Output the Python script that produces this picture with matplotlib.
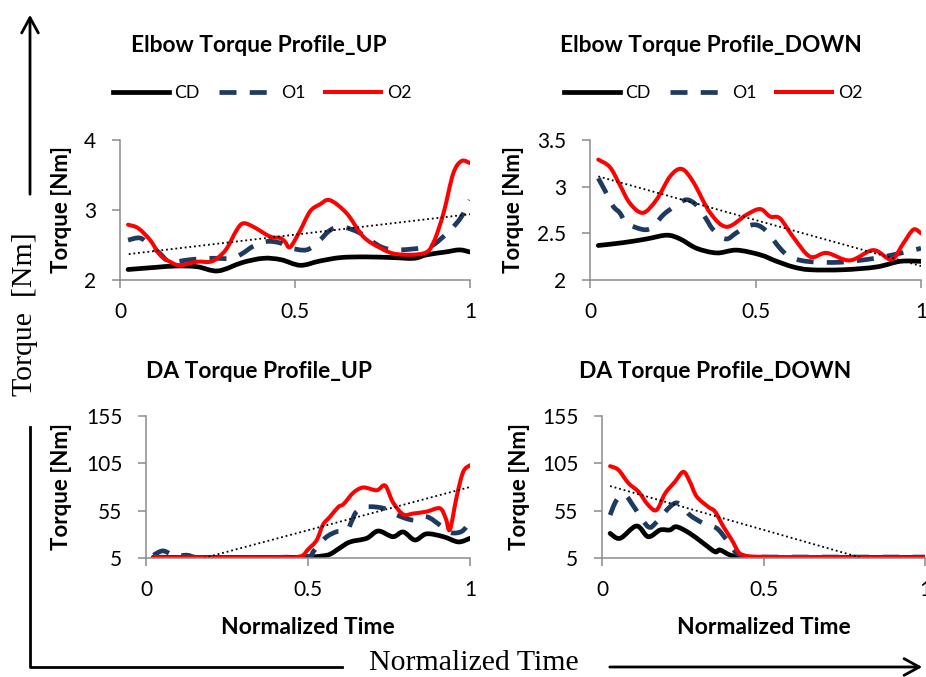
import numpy as np
import matplotlib
matplotlib.use("Agg")
import matplotlib.pyplot as plt
from matplotlib.lines import Line2D
from matplotlib.patches import FancyArrowPatch, PathPatch
from matplotlib.path import Path

plt.rcParams['font.family'] = ['Lato', 'DejaVu Sans']

W, H = 926, 677

# ---- elbow, lifting up ----
eu_cd_t = [0.023, 0.1, 0.16, 0.22, 0.28, 0.35, 0.41, 0.46, 0.515, 0.57, 0.63, 0.7, 0.78, 0.84, 0.876, 0.93, 0.97, 1.0]
eu_cd_v = [2.15, 2.18, 2.20, 2.19, 2.13, 2.25, 2.31, 2.29, 2.21, 2.27, 2.32, 2.33, 2.32, 2.31, 2.36, 2.40, 2.43, 2.40]
eu_o1_t = [0.023, 0.057, 0.086, 0.114, 0.143, 0.2, 0.257, 0.319, 0.35, 0.38, 0.419, 0.457, 0.486, 0.533, 0.567,
           0.6, 0.633, 0.686, 0.743, 0.79, 0.866, 0.895, 0.943, 0.975, 1.0]
eu_o1_v = [2.57, 2.60, 2.50, 2.38, 2.26, 2.29, 2.31, 2.31, 2.38, 2.48, 2.55, 2.53, 2.46, 2.43, 2.55,
           2.71, 2.76, 2.67, 2.48, 2.43, 2.46, 2.50, 2.71, 2.90, 3.14]
eu_o2_t = [0.023, 0.052, 0.086, 0.114, 0.143, 0.171, 0.219, 0.257, 0.28, 0.305, 0.333, 0.352, 0.381, 0.429, 0.457,
           0.471, 0.486, 0.514, 0.543, 0.571, 0.6, 0.648, 0.695, 0.743, 0.79, 0.867, 0.895, 0.924, 0.952, 0.976, 1.0]
eu_o2_v = [2.79, 2.74, 2.57, 2.36, 2.26, 2.21, 2.26, 2.26, 2.32, 2.45, 2.71, 2.81, 2.76, 2.62, 2.60,
           2.55, 2.47, 2.70, 2.98, 3.08, 3.14, 2.95, 2.62, 2.46, 2.37, 2.38, 2.53, 2.95, 3.52, 3.70, 3.67]
eu_trend = [2.37, 2.94]

# ---- elbow, lowering down ----
ed_cd_t = [0.025, 0.1, 0.171, 0.232, 0.272, 0.322, 0.383, 0.443, 0.514, 0.564, 0.614, 0.665, 0.765, 0.866, 0.937, 1.0]
ed_cd_v = [2.37, 2.40, 2.44, 2.48, 2.44, 2.34, 2.29, 2.32, 2.27, 2.20, 2.14, 2.11, 2.11, 2.14, 2.20, 2.20]
ed_o1_t = [0.025, 0.045, 0.07, 0.09, 0.111, 0.161, 0.19, 0.222, 0.26, 0.292, 0.322, 0.35, 0.372, 0.41, 0.44,
           0.47, 0.503, 0.534, 0.574, 0.604, 0.655, 0.755, 0.856, 0.916, 0.977, 1.0]
ed_o1_v = [3.09, 2.96, 2.79, 2.72, 2.61, 2.54, 2.57, 2.70, 2.80, 2.86, 2.80, 2.66, 2.54, 2.44, 2.50,
           2.57, 2.59, 2.52, 2.34, 2.25, 2.20, 2.19, 2.23, 2.27, 2.32, 2.34]
ed_o2_t = [0.025, 0.06, 0.09, 0.121, 0.16, 0.201, 0.242, 0.277, 0.312, 0.363, 0.413, 0.473, 0.514, 0.544, 0.574,
           0.614, 0.665, 0.715, 0.785, 0.856, 0.911, 0.946, 0.977, 1.0]
ed_o2_v = [3.29, 3.21, 3.02, 2.82, 2.72, 2.86, 3.11, 3.19, 3.05, 2.72, 2.57, 2.70, 2.76, 2.68, 2.66,
           2.46, 2.25, 2.29, 2.21, 2.32, 2.22, 2.39, 2.54, 2.50]
ed_trend = [3.11, 2.15]

# ---- DA, lifting up ----
du_cd_t = [0.023, 0.1, 0.2, 0.3, 0.4, 0.5, 0.54, 0.568, 0.6, 0.63, 0.681, 0.717, 0.762, 0.794, 0.83, 0.866, 0.918, 0.964, 1.0]
du_cd_v = [6, 5.5, 5.5, 5.5, 5.5, 6, 7, 9, 16, 22, 25.8, 33.5, 27.5, 32.5, 24, 30.5, 27.5, 22, 25.8]
du_o1_t = [0.023, 0.053, 0.09, 0.126, 0.16, 0.25, 0.35, 0.45, 0.506, 0.516, 0.537, 0.56, 0.589, 0.62, 0.635,
           0.65, 0.681, 0.733, 0.774, 0.825, 0.866, 0.907, 0.938, 0.974, 1.0]
du_o1_v = [8, 12.5, 7, 8, 5.5, 5.5, 5.5, 6, 7, 11.5, 20.5, 28, 32.8, 34, 44,
           54, 59, 57.5, 50.4, 45, 48.6, 39.8, 32, 33, 43]
du_o2_t = [0.023, 0.1, 0.2, 0.3, 0.4, 0.475, 0.5, 0.527, 0.546, 0.568, 0.594, 0.61, 0.64, 0.671, 0.712,
           0.738, 0.762, 0.794, 0.825, 0.866, 0.907, 0.925, 0.938, 0.959, 0.979, 1.0]
du_o2_v = [6, 5.5, 5.5, 5.5, 5.5, 6.5, 14, 24, 40, 48.6, 59, 62, 74, 79.5, 76.5,
           81.5, 64, 51, 52, 54, 57.5, 47, 35, 70, 96, 103]
du_trend = [-9, 80]

# ---- DA, lowering down ----
dd_cd_t = [0.025, 0.056, 0.107, 0.143, 0.18, 0.21, 0.231, 0.272, 0.314, 0.35, 0.365, 0.396, 0.427, 0.5, 0.6, 0.7, 0.8, 0.9, 1.0]
dd_cd_v = [31, 25.8, 38.8, 27.5, 34.6, 34.6, 38, 31, 20.5, 11.6, 13.5, 8.2, 6.4, 5.5, 5.5, 5.5, 5.5, 5.5, 5.5]
dd_o1_t = [0.025, 0.045, 0.071, 0.102, 0.143, 0.169, 0.21, 0.236, 0.272, 0.314, 0.355, 0.386, 0.417, 0.448,
           0.5, 0.6, 0.7, 0.8, 0.9, 1.0]
dd_o1_v = [50.4, 66, 71.5, 57.5, 38, 43, 59, 62.8, 50.4, 41.6, 36.4, 24, 10, 6.4, 6, 6, 6, 6, 6, 6]
dd_o2_t = [0.025, 0.051, 0.082, 0.113, 0.143, 0.169, 0.195, 0.226, 0.252, 0.272, 0.293, 0.329, 0.35, 0.376,
           0.402, 0.422, 0.437, 0.47, 0.6, 0.8, 1.0]
dd_o2_v = [102, 98, 84, 75, 61, 55.7, 73, 85.6, 96, 85.6, 70, 59, 54, 38, 24, 11.6, 8.2, 6.4, 6, 5.5, 5.5]
dd_trend = [81, -14]

trend_t = [0.025, 1.0]

titles = ["Elbow Torque Profile_UP", "Elbow Torque Profile_DOWN", "DA Torque Profile_UP", "DA Torque Profile_DOWN"]
series_names = ["CD", "O1", "O2"]
elbow_up_ticks = [2, 3, 4]
elbow_down_ticks = [2, 2.5, 3, 3.5]
da_ticks = [5, 55, 105, 155]
x_ticks = [0, 0.5, 1]
x_ticklabels = ["0", "0.5", "1"]

NAVY = '#1F3A60'
GRID = '#8C8C8C'


def fx(px):
    return px / W


def fy(py):
    return 1 - py / H


def smooth_path(xs, ys):
    # bezier path through every point, like a spreadsheet "smoothed line"
    p = np.column_stack([xs, ys]).astype(float)
    n = len(p)
    verts = [p[0]]
    codes = [Path.MOVETO]
    for i in range(n - 1):
        p0 = p[i - 1] if i > 0 else p[i]
        p3 = p[i + 2] if i + 2 < n else p[i + 1]
        c1 = p[i] + (p[i + 1] - p0) / 6.0
        c2 = p[i + 1] - (p3 - p[i]) / 6.0
        verts += [c1, c2, p[i + 1]]
        codes += [Path.CURVE4] * 3
    return Path(verts, codes)


def draw_series(ax, xs, ys, **kw):
    patch = PathPatch(smooth_path(xs, ys), fill=False, joinstyle='round', **kw)
    ax.add_patch(patch)
    return patch


fig = plt.figure(figsize=(W / 100, H / 100), dpi=100)
fig.patch.set_facecolor('white')

# axes boxes in pixels: left, right, top, bottom
boxes = [(120, 470, 140, 280), (590, 921, 140, 280), (146, 470, 416, 558), (602, 925, 416, 558)]
panels = [
    (eu_cd_t, eu_cd_v, eu_o1_t, eu_o1_v, eu_o2_t, eu_o2_v, eu_trend, elbow_up_ticks),
    (ed_cd_t, ed_cd_v, ed_o1_t, ed_o1_v, ed_o2_t, ed_o2_v, ed_trend, elbow_down_ticks),
    (du_cd_t, du_cd_v, du_o1_t, du_o1_v, du_o2_t, du_o2_v, du_trend, da_ticks),
    (dd_cd_t, dd_cd_v, dd_o1_t, dd_o1_v, dd_o2_t, dd_o2_v, dd_trend, da_ticks),
]
title_pos = [(259, 45), (711, 45), (259, 372), (715, 372)]
ylabel_x = [62, 514, 62, 519]

dash_o1 = (0, (3.6, 2.8))

for i, (box, p) in enumerate(zip(boxes, panels)):
    l, r, t, b = box
    ax = fig.add_axes([fx(l), fy(b), (r - l) / W, (b - t) / H])
    cd_t, cd_v, o1_t, o1_v, o2_t, o2_v, trend, yt = p

    draw_series(ax, cd_t, cd_v, edgecolor='black', lw=3.4, capstyle='round')
    draw_series(ax, o1_t, o1_v, edgecolor=NAVY, lw=3.4, linestyle=dash_o1, capstyle='butt')
    draw_series(ax, o2_t, o2_v, edgecolor='#FF0000', lw=2.9, capstyle='round')
    ax.plot(trend_t, trend, color='black', lw=1.3, linestyle=(0, (1, 1.6)))

    ax.set_xlim(0, 1)
    ax.set_ylim(yt[0], yt[-1])
    ax.set_xticks(x_ticks)
    ax.set_xticklabels(x_ticklabels)
    ax.set_yticks(yt)
    ax.set_yticklabels(["%g" % v for v in yt])

    for s in ['top', 'right']:
        ax.spines[s].set_visible(False)
    for s in ['left', 'bottom']:
        ax.spines[s].set_color(GRID)
        ax.spines[s].set_linewidth(1.1)
    ax.tick_params(axis='both', direction='out', length=6, width=1.1, color=GRID,
                   labelsize=15, labelcolor='black')
    ax.tick_params(axis='y', pad=11)
    ax.tick_params(axis='x', pad=10)

    fig.text(fx(title_pos[i][0]), fy(title_pos[i][1]), titles[i], fontsize=16.4, fontweight='bold',
             ha='center', va='center')
    fig.text(fx(ylabel_x[i]), fy((t + b) / 2), "Torque [Nm]", fontsize=16, fontweight='bold',
             rotation=90, ha='center', va='center')

    if i < 2:
        handles = [Line2D([], [], color='black', lw=3.4),
                   Line2D([], [], color=NAVY, lw=3.4, linestyle=dash_o1),
                   Line2D([], [], color='#FF0000', lw=2.9)]
        ax.legend(handles, series_names, loc='center', ncol=3, frameon=False,
                  bbox_to_anchor=(fx(262 if i == 0 else 713), fy(93)), bbox_transform=fig.transFigure,
                  fontsize=12.7, handlelength=3.2, handletextpad=0.3, columnspacing=1.1)
    else:
        fig.text(fx((l + r) / 2), fy(628), "Normalized Time", fontsize=16.5, fontweight='bold',
                 ha='center', va='center')

# outer frame: arrows and serif captions
arrow_kw = dict(arrowstyle='->,head_length=0.55,head_width=0.3', mutation_scale=20,
                color='black', lw=2.0, transform=fig.transFigure)
fig.patches.append(FancyArrowPatch((fx(30), fy(197)), (fx(30), fy(12)), **arrow_kw))
fig.patches.append(FancyArrowPatch((fx(607), fy(667)), (fx(925), fy(667)), **arrow_kw))
fig.add_artist(Line2D([fx(30), fx(30), fx(342)], [fy(427), fy(667), fy(667)],
                      color='black', lw=2.0, transform=fig.transFigure))

fig.text(fx(25), fy(314), "Torque  [Nm]", family='Liberation Serif', fontsize=21.5,
         rotation=90, ha='center', va='center')
fig.text(fx(474), fy(663), "Normalized Time", family='Liberation Serif', fontsize=21.5,
         ha='center', va='center')

fig.savefig('out.png', dpi=100)
